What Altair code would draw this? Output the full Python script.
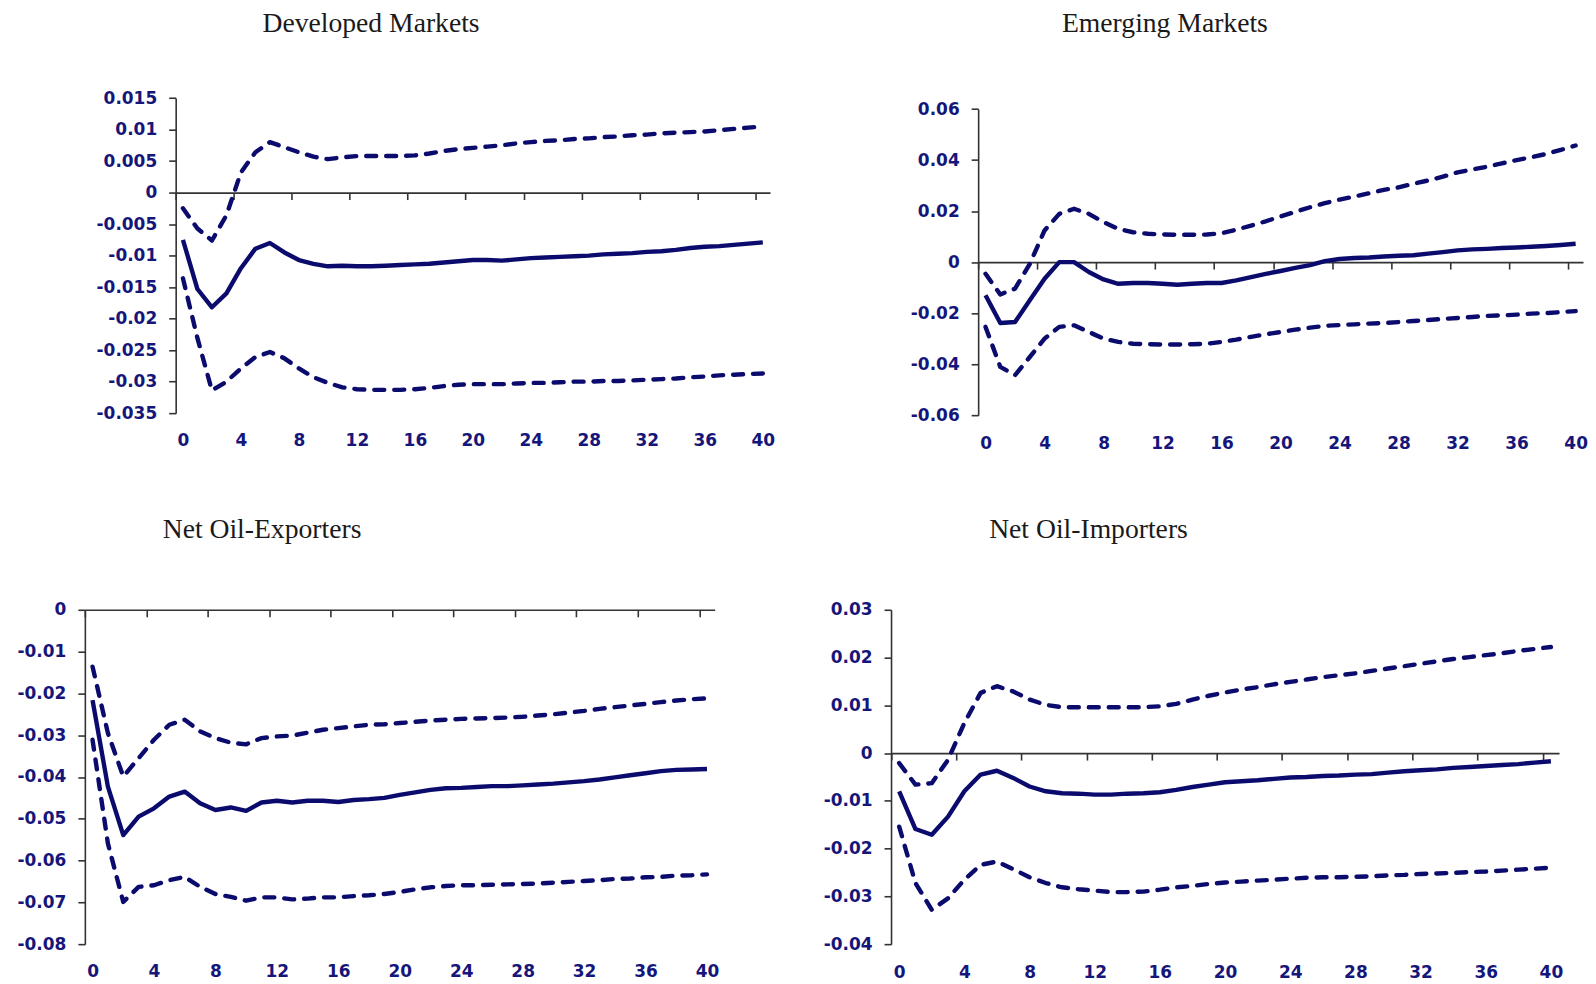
import altair as alt
import pandas as pd

# ---------------- data ----------------
horizon = list(range(41))

dm_mid = [-0.0075, -0.0153, -0.0182, -0.0160, -0.0120, -0.0089, -0.0080, -0.0095, -0.0107, -0.0113,
          -0.0117, -0.0116, -0.0117, -0.0117, -0.0116, -0.0115, -0.0114, -0.0113, -0.0111, -0.0109,
          -0.0107, -0.0107, -0.0108, -0.0106, -0.0104, -0.0103, -0.0102, -0.0101, -0.0100, -0.0098,
          -0.0097, -0.0096, -0.0094, -0.0093, -0.0091, -0.0088, -0.0086, -0.0085, -0.0083, -0.0081, -0.0079]
dm_up = [-0.0025, -0.0057, -0.0076, -0.0036, 0.0032, 0.0064, 0.0080, 0.0072, 0.0064, 0.0057,
         0.0053, 0.0056, 0.0058, 0.0058, 0.0058, 0.0058, 0.0059, 0.0062, 0.0066, 0.0069,
         0.0071, 0.0073, 0.0075, 0.0078, 0.0080, 0.0082, 0.0083, 0.0085, 0.0086, 0.0088,
         0.0089, 0.0091, 0.0092, 0.0094, 0.0095, 0.0096, 0.0097, 0.0099, 0.0101, 0.0103, 0.0105]
dm_lo = [-0.0136, -0.0231, -0.0314, -0.0300, -0.0279, -0.0261, -0.0253, -0.0263, -0.0279, -0.0293,
         -0.0302, -0.0309, -0.0312, -0.0313, -0.0313, -0.0313, -0.0312, -0.0310, -0.0307, -0.0305,
         -0.0304, -0.0304, -0.0304, -0.0303, -0.0302, -0.0302, -0.0301, -0.0300, -0.0300, -0.0299,
         -0.0299, -0.0298, -0.0297, -0.0296, -0.0295, -0.0293, -0.0292, -0.0290, -0.0289, -0.0288, -0.0287]

em_mid = [-0.0130, -0.0239, -0.0235, -0.0150, -0.0065, 0.0, 0.0, -0.0039, -0.0068, -0.0085,
          -0.0082, -0.0082, -0.0085, -0.0089, -0.0085, -0.0082, -0.0082, -0.0072, -0.0059, -0.0046,
          -0.0035, -0.0023, -0.0012, 0.0004, 0.0012, 0.0016, 0.0018, 0.0022, 0.0025, 0.0027,
          0.0033, 0.0039, 0.0046, 0.0050, 0.0052, 0.0055, 0.0057, 0.0060, 0.0063, 0.0067, 0.0072]
em_up = [-0.0046, -0.0127, -0.0104, -0.0007, 0.0124, 0.0189, 0.0209, 0.0189, 0.0157, 0.0130,
         0.0117, 0.0111, 0.0108, 0.0107, 0.0107, 0.0108, 0.0113, 0.0127, 0.0143, 0.0160,
         0.0179, 0.0197, 0.0215, 0.0231, 0.0245, 0.0257, 0.0270, 0.0283, 0.0293, 0.0307,
         0.0320, 0.0335, 0.0352, 0.0363, 0.0374, 0.0387, 0.0400, 0.0411, 0.0424, 0.0440, 0.0457]
em_lo = [-0.0254, -0.0411, -0.0443, -0.0372, -0.0300, -0.0254, -0.0248, -0.0274, -0.0300, -0.0313,
         -0.0320, -0.0322, -0.0323, -0.0323, -0.0322, -0.0320, -0.0313, -0.0304, -0.0293, -0.0283,
         -0.0274, -0.0265, -0.0257, -0.0250, -0.0247, -0.0244, -0.0241, -0.0239, -0.0235, -0.0231,
         -0.0227, -0.0223, -0.0219, -0.0215, -0.0211, -0.0209, -0.0206, -0.0202, -0.0200, -0.0196, -0.0192]

ex_mid = [-0.0216, -0.0423, -0.0539, -0.0495, -0.0475, -0.0447, -0.0435, -0.0463, -0.0479, -0.0473,
          -0.0481, -0.0461, -0.0457, -0.0461, -0.0457, -0.0457, -0.0460, -0.0455, -0.0453, -0.0450,
          -0.0443, -0.0437, -0.0431, -0.0427, -0.0426, -0.0424, -0.0422, -0.0422, -0.0420, -0.0418,
          -0.0416, -0.0413, -0.0410, -0.0406, -0.0401, -0.0396, -0.0391, -0.0386, -0.0383, -0.0382, -0.0381]
ex_up = [-0.0136, -0.0295, -0.0399, -0.0355, -0.0311, -0.0275, -0.0263, -0.0291, -0.0307, -0.0318,
         -0.0322, -0.0307, -0.0303, -0.0301, -0.0294, -0.0287, -0.0283, -0.0279, -0.0275, -0.0274,
         -0.0271, -0.0268, -0.0265, -0.0263, -0.0261, -0.0260, -0.0259, -0.0258, -0.0256, -0.0253,
         -0.0250, -0.0246, -0.0242, -0.0237, -0.0233, -0.0229, -0.0225, -0.0221, -0.0217, -0.0214, -0.0212]
ex_lo = [-0.0311, -0.0559, -0.0699, -0.0663, -0.0659, -0.0647, -0.0639, -0.0663, -0.0680, -0.0687,
         -0.0696, -0.0688, -0.0688, -0.0693, -0.0691, -0.0688, -0.0688, -0.0685, -0.0683, -0.0680,
         -0.0675, -0.0669, -0.0664, -0.0661, -0.0659, -0.0659, -0.0658, -0.0657, -0.0656, -0.0655,
         -0.0653, -0.0651, -0.0649, -0.0647, -0.0644, -0.0643, -0.0640, -0.0639, -0.0636, -0.0635, -0.0633]

im_mid = [-0.0080, -0.0159, -0.0171, -0.0133, -0.0080, -0.0045, -0.0037, -0.0052, -0.0070, -0.0080,
          -0.0084, -0.0085, -0.0087, -0.0087, -0.0085, -0.0084, -0.0082, -0.0077, -0.0071, -0.0066,
          -0.0061, -0.0059, -0.0057, -0.0054, -0.0051, -0.0050, -0.0048, -0.0047, -0.0045, -0.0044,
          -0.0041, -0.0038, -0.0036, -0.0034, -0.0031, -0.0029, -0.0027, -0.0025, -0.0023, -0.0020, -0.0017]
im_up = [-0.0021, -0.0066, -0.0063, -0.0014, 0.0063, 0.0126, 0.0140, 0.0129, 0.0112, 0.0101,
         0.0096, 0.0096, 0.0096, 0.0096, 0.0096, 0.0096, 0.0098, 0.0103, 0.0112, 0.0120,
         0.0127, 0.0133, 0.0138, 0.0144, 0.0149, 0.0154, 0.0159, 0.0163, 0.0167, 0.0172,
         0.0177, 0.0182, 0.0187, 0.0192, 0.0197, 0.0201, 0.0205, 0.0209, 0.0214, 0.0218, 0.0222]
im_lo = [-0.0154, -0.0272, -0.0328, -0.0304, -0.0265, -0.0234, -0.0227, -0.0243, -0.0260, -0.0272,
         -0.0281, -0.0285, -0.0288, -0.0291, -0.0291, -0.0290, -0.0286, -0.0281, -0.0278, -0.0274,
         -0.0271, -0.0269, -0.0267, -0.0265, -0.0263, -0.0261, -0.0260, -0.0260, -0.0259, -0.0258,
         -0.0256, -0.0255, -0.0253, -0.0252, -0.0251, -0.0249, -0.0248, -0.0246, -0.0244, -0.0242, -0.0240]

titles = ["Developed Markets", "Emerging Markets", "Net Oil-Exporters", "Net Oil-Importers"]

dm_yticks = [0.015, 0.01, 0.005, 0, -0.005, -0.01, -0.015, -0.02, -0.025, -0.03, -0.035]
em_yticks = [0.06, 0.04, 0.02, 0, -0.02, -0.04, -0.06]
ex_yticks = [0, -0.01, -0.02, -0.03, -0.04, -0.05, -0.06, -0.07, -0.08]
im_yticks = [0.03, 0.02, 0.01, 0, -0.01, -0.02, -0.03, -0.04]
x_ticks = list(range(0, 41, 4))

# ---------------- styling / layout ----------------
CELL_W, CELL_H = 790, 480
LINE = "#0b0b6e"
LABEL = "#16167a"
AXISC = "#333333"
LABEL_FONT = "DejaVu Sans"
LABEL_SIZE = 17
TITLE_FONT = "Liberation Serif"
TITLE_SIZE = 27.7

# plot-area geometry inside each cell: left, right, top, bottom, x-label centre, title x, title baseline
geoms = [
    (168, 763.5, 89.3, 405, 432, 255, 23),
    (182, 788, 100.3, 407, 435, 266, 23),
    (77, 708, 122, 457, 483.7, 155, 50),
    (94.7, 764, 122, 457, 485, 193, 50),
]


def panel(title, mid, up, lo, yt, geom):
    L, R, T, B, lab_c, tx, tb = geom
    ymax, ymin = yt[0], yt[-1]
    y_zero = T + (B - T) * (ymax - 0) / (ymax - ymin)
    u = (R - L) / 41.0
    df = pd.DataFrame({
        "h": horizon * 3,
        "v": mid + up + lo,
        "band": ["mid"] * 41 + ["upper"] * 41 + ["lower"] * 41,
    })
    x_enc = alt.X(
        "h:Q",
        scale=alt.Scale(domain=[-0.5, 40.5], range=[L, R], nice=False, zero=False),
        axis=alt.Axis(
            values=x_ticks, format="d", title=None, grid=False, orient="bottom",
            offset=y_zero - CELL_H, tickSize=7, tickOffset=-u / 2, labelOffset=u / 2,
            labelPadding=(lab_c - 7.2) - y_zero - 7, labelFlush=False, labelOverlap=False,
            labelFont=LABEL_FONT, labelFontSize=LABEL_SIZE, labelFontWeight="bold",
            labelColor=LABEL, domainColor=AXISC, domainWidth=1.6, tickColor=AXISC, tickWidth=1.6,
        ),
    )
    y_enc = alt.Y(
        "v:Q",
        scale=alt.Scale(domain=[ymin, ymax], range=[B, T], nice=False, zero=False),
        axis=alt.Axis(
            values=yt, labelExpr="'' + datum.value", title=None, grid=False, orient="left",
            offset=-L, tickSize=7, labelPadding=12, labelFlush=False, labelOverlap=False,
            labelFont=LABEL_FONT, labelFontSize=LABEL_SIZE, labelFontWeight="bold",
            labelColor=LABEL, domainColor=AXISC, domainWidth=1.6, tickColor=AXISC, tickWidth=1.6,
        ),
    )
    base = alt.Chart(df)
    solid = base.transform_filter(alt.datum.band == "mid").mark_line(
        color=LINE, strokeWidth=4.4, strokeJoin="round"
    ).encode(x=x_enc, y=y_enc)
    dashed = base.transform_filter(alt.datum.band != "mid").mark_line(
        color=LINE, strokeWidth=4.4, strokeDash=[10, 10], strokeCap="round", strokeJoin="round"
    ).encode(x=x_enc, y=y_enc, detail="band:N")
    return alt.layer(solid, dashed).properties(
        width=CELL_W, height=CELL_H,
        title=alt.TitleParams(
            text=title, anchor="start", frame="group", orient="top", dx=tx,
            offset=-(tb + TITLE_SIZE), baseline="alphabetic", font=TITLE_FONT,
            fontSize=TITLE_SIZE, fontWeight="normal", color="#1a1a1a",
        ),
    )


series = [(dm_mid, dm_up, dm_lo, dm_yticks), (em_mid, em_up, em_lo, em_yticks),
          (ex_mid, ex_up, ex_lo, ex_yticks), (im_mid, im_up, im_lo, im_yticks)]

panels = [panel(t, m, u, l, yt, g) for t, (m, u, l, yt), g in zip(titles, series, geoms)]

chart = alt.concat(*panels, columns=2, spacing=0, bounds="flush").properties(
    padding={"left": 0, "top": 0, "right": 0, "bottom": 0}
).configure_view(stroke=None)

chart.save("out.html", embed_options={"renderer": "svg", "actions": False})
